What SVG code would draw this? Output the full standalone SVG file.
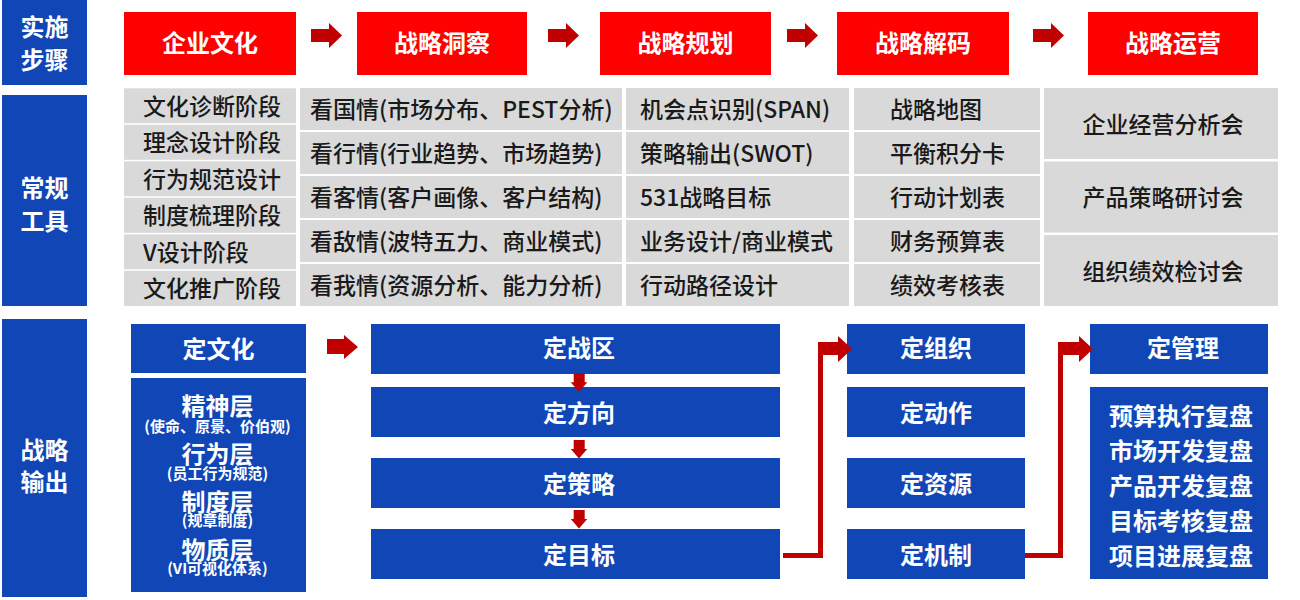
<svg xmlns="http://www.w3.org/2000/svg" width="1300" height="600" viewBox="0 0 1300 600">
<style>
text{font-family:"Noto Sans CJK SC","Noto Sans",sans-serif;dominant-baseline:central;transform:translate(0px,-1px)}
.blue{fill:#1046b6}
.red{fill:#ff0000}
.gray{fill:#d9d9d9}
.wl{fill:#fff;font-size:24px;font-weight:bold;text-anchor:middle}
.wh{fill:#fff;font-size:24px;font-weight:bold;text-anchor:middle}
.ws{font-size:15px}
.gt{fill:#1a1a1a;font-size:23px;font-weight:500}
.gc{fill:#1a1a1a;font-size:23px;font-weight:500;text-anchor:middle}
.arr{fill:#c00000}
.ln{fill:none;stroke:#c00000;stroke-width:5}
</style>
<defs>
<path id="ra" d="M0,6 H18 V0 L31,12.5 L18,25 V19 H0 Z"/>
<path id="da" d="M3,0 H14 V9 H16.6 L8.3,18.5 L0,9 H3 Z"/>
</defs>
<rect width="1300" height="600" fill="#fff"/>

<g id="row-labels">
<rect class="blue" x="2" y="0" width="85" height="85"/>
<text class="wl" x="44.5" y="26">实施</text>
<text class="wl" x="44.5" y="59">步骤</text>
<rect class="blue" x="2" y="95" width="85" height="211"/>
<text class="wl" x="44.5" y="187.5">常规</text>
<text class="wl" x="44.5" y="220">工具</text>
<rect class="blue" x="2" y="319" width="85" height="278"/>
<text class="wl" x="44.5" y="449">战略</text>
<text class="wl" x="44.5" y="481">输出</text>
</g>

<g id="step-1"><rect class="red" x="124" y="12" width="172" height="63"/><text class="wh" x="210" y="42">企业文化</text></g>
<g id="step-2"><rect class="red" x="357" y="12" width="170" height="63"/><text class="wh" x="442" y="42">战略洞察</text></g>
<g id="step-3"><rect class="red" x="600" y="12" width="171" height="63"/><text class="wh" x="685.5" y="42">战略规划</text></g>
<g id="step-4"><rect class="red" x="837" y="12" width="172" height="63"/><text class="wh" x="923" y="42">战略解码</text></g>
<g id="step-5"><rect class="red" x="1088" y="12" width="170" height="63"/><text class="wh" x="1173" y="42">战略运营</text></g>

<g id="tools-culture">
<rect class="gray" x="124" y="88.3" width="172" height="35"/><text class="gt" x="143" y="105.8">文化诊断阶段</text>
<rect class="gray" x="124" y="124.8" width="172" height="35"/><text class="gt" x="143" y="142.3">理念设计阶段</text>
<rect class="gray" x="124" y="161.3" width="172" height="35"/><text class="gt" x="143" y="178.8">行为规范设计</text>
<rect class="gray" x="124" y="197.8" width="172" height="35"/><text class="gt" x="143" y="215.3">制度梳理阶段</text>
<rect class="gray" x="124" y="234.3" width="172" height="35"/><text class="gt" x="143" y="251.8">V设计阶段</text>
<rect class="gray" x="124" y="270.8" width="172" height="35.2"/><text class="gt" x="143" y="288.3">文化推广阶段</text>
</g>

<g id="tools-insight">
<rect class="gray" x="300" y="88" width="322" height="42"/><text class="gt" x="310" y="109">看国情(市场分布、PEST分析)</text>
<rect class="gray" x="300" y="132" width="322" height="42"/><text class="gt" x="310" y="153">看行情(行业趋势、市场趋势)</text>
<rect class="gray" x="300" y="176" width="322" height="42"/><text class="gt" x="310" y="197">看客情(客户画像、客户结构)</text>
<rect class="gray" x="300" y="220" width="322" height="42"/><text class="gt" x="310" y="241">看敌情(波特五力、商业模式)</text>
<rect class="gray" x="300" y="264" width="322" height="42"/><text class="gt" x="310" y="285">看我情(资源分析、能力分析)</text>
</g>

<g id="tools-planning">
<rect class="gray" x="626" y="88" width="223" height="42"/><text class="gt" x="640" y="109">机会点识别(SPAN)</text>
<rect class="gray" x="626" y="132" width="223" height="42"/><text class="gt" x="640" y="153">策略输出(SWOT)</text>
<rect class="gray" x="626" y="176" width="223" height="42"/><text class="gt" x="640" y="197">531战略目标</text>
<rect class="gray" x="626" y="220" width="223" height="42"/><text class="gt" x="640" y="241">业务设计/商业模式</text>
<rect class="gray" x="626" y="264" width="223" height="42"/><text class="gt" x="640" y="285">行动路径设计</text>
</g>

<g id="tools-decoding">
<rect class="gray" x="854" y="88" width="186" height="42"/><text class="gt" x="890" y="109">战略地图</text>
<rect class="gray" x="854" y="132" width="186" height="42"/><text class="gt" x="890" y="153">平衡积分卡</text>
<rect class="gray" x="854" y="176" width="186" height="42"/><text class="gt" x="890" y="197">行动计划表</text>
<rect class="gray" x="854" y="220" width="186" height="42"/><text class="gt" x="890" y="241">财务预算表</text>
<rect class="gray" x="854" y="264" width="186" height="42"/><text class="gt" x="890" y="285">绩效考核表</text>
</g>

<g id="tools-operation">
<rect class="gray" x="1044" y="88" width="234" height="71"/><text class="gc" x="1163" y="123.5">企业经营分析会</text>
<rect class="gray" x="1044" y="161.5" width="234" height="71"/><text class="gc" x="1163" y="196.5">产品策略研讨会</text>
<rect class="gray" x="1044" y="235" width="234" height="71"/><text class="gc" x="1163" y="270.5">组织绩效检讨会</text>
</g>

<g id="out-culture">
<rect class="blue" x="131" y="324" width="175" height="49"/><text class="wh" x="218.5" y="348">定文化</text>
</g>
<g id="out-culture-layers">
<rect class="blue" x="131" y="378" width="175" height="214"/>
<text class="wh"><tspan x="217.5" y="405">精神层</tspan><tspan class="ws" x="217.5" y="426">(使命、原景、价伯观)</tspan></text>
<text class="wh"><tspan x="217.5" y="453">行为层</tspan><tspan class="ws" x="217.5" y="473">(员工行为规范)</tspan></text>
<text class="wh"><tspan x="217.5" y="501">制度层</tspan><tspan class="ws" x="217.5" y="520">(规章制度)</tspan></text>
<text class="wh"><tspan x="217.5" y="549">物质层</tspan><tspan class="ws" x="217.5" y="568">(VI可视化体系)</tspan></text>
</g>

<g id="out-zone"><rect class="blue" x="371" y="324" width="409" height="50"/><text class="wh" x="579" y="347.5">定战区</text></g>
<g id="out-direction"><rect class="blue" x="371" y="387" width="409" height="50"/><text class="wh" x="579" y="412">定方向</text></g>
<g id="out-strategy"><rect class="blue" x="371" y="458" width="409" height="50"/><text class="wh" x="579" y="483">定策略</text></g>
<g id="out-target"><rect class="blue" x="371" y="529" width="409" height="50"/><text class="wh" x="579" y="554">定目标</text></g>

<g id="out-org"><rect class="blue" x="847" y="324" width="178" height="50"/><text class="wh" x="936" y="347.5">定组织</text></g>
<g id="out-action"><rect class="blue" x="847" y="387" width="178" height="50"/><text class="wh" x="936" y="412">定动作</text></g>
<g id="out-resource"><rect class="blue" x="847" y="458" width="178" height="50"/><text class="wh" x="936" y="483">定资源</text></g>
<g id="out-mechanism"><rect class="blue" x="847" y="529" width="178" height="50"/><text class="wh" x="936" y="554">定机制</text></g>

<g id="out-manage"><rect class="blue" x="1090" y="324" width="178" height="50"/><text class="wh" x="1183" y="347.5">定管理</text></g>
<g id="out-review">
<rect class="blue" x="1090" y="387" width="178" height="192"/>
<text class="wh" x="1181" y="415">预算执行复盘</text>
<text class="wh" x="1181" y="450">市场开发复盘</text>
<text class="wh" x="1181" y="485">产品开发复盘</text>
<text class="wh" x="1181" y="520">目标考核复盘</text>
<text class="wh" x="1181" y="555">项目进展复盘</text>
</g>

<g id="connectors">
<use href="#ra" class="arr" x="311" y="23"/>
<use href="#ra" class="arr" x="548" y="23"/>
<use href="#ra" class="arr" x="787" y="23"/>
<use href="#ra" class="arr" x="1033" y="23"/>
<path class="arr" d="M327,339 H344 V335 L358,347 L344,359 V354 H327 Z"/>
<use href="#da" class="arr" x="570.7" y="373.3"/>
<use href="#da" class="arr" x="570.7" y="440"/>
<use href="#da" class="arr" x="570.7" y="510"/>
<path class="ln" d="M783,555.5 H820.5 V344"/>
<path class="arr" d="M818,342 H838 V336 L852,349 L838,362 V355 H818 Z"/>
<path class="ln" d="M1025,555.5 H1060.5 V344"/>
<path class="arr" d="M1058,342 H1079 V336 L1093,349 L1079,362 V355 H1058 Z"/>
</g>
</svg>
